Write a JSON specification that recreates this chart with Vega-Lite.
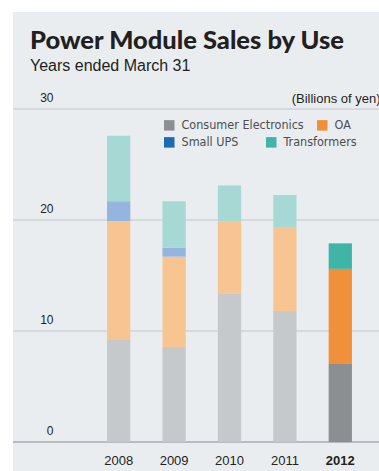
{
  "$schema": "https://vega.github.io/schema/vega-lite/v6.json",
  "width": 366,
  "height": 459,
  "autosize": {"type": "none"},
  "padding": {"left": 13, "top": 12, "right": 0, "bottom": 0},
  "background": "#ffffff",
  "title": {
    "text": "Power Module Sales by Use",
    "subtitle": "Years ended March 31",
    "anchor": "start",
    "frame": "group",
    "orient": "top",
    "dx": 17,
    "offset": -62,
    "font": "Lato",
    "fontSize": 25.5,
    "fontWeight": 900,
    "color": "#231f20",
    "subtitleFont": "Liberation Sans",
    "subtitleFontSize": 16,
    "subtitleColor": "#231f20",
    "subtitlePadding": 4
  },
  "config": {
    "view": {"fill": "#e9edf0", "stroke": null},
    "font": "Liberation Sans"
  },
  "data": {
    "values": [
      {"year": "2008", "use": "Consumer Electronics", "sales": 9.2},
      {"year": "2008", "use": "OA", "sales": 10.7},
      {"year": "2008", "use": "Small UPS", "sales": 1.8},
      {"year": "2008", "use": "Transformers", "sales": 5.9},
      {"year": "2009", "use": "Consumer Electronics", "sales": 8.55},
      {"year": "2009", "use": "OA", "sales": 8.15},
      {"year": "2009", "use": "Small UPS", "sales": 0.8},
      {"year": "2009", "use": "Transformers", "sales": 4.2},
      {"year": "2010", "use": "Consumer Electronics", "sales": 13.4},
      {"year": "2010", "use": "OA", "sales": 6.45},
      {"year": "2010", "use": "Transformers", "sales": 3.25},
      {"year": "2011", "use": "Consumer Electronics", "sales": 11.8},
      {"year": "2011", "use": "OA", "sales": 7.5},
      {"year": "2011", "use": "Transformers", "sales": 2.95},
      {"year": "2012", "use": "Consumer Electronics", "sales": 7.1},
      {"year": "2012", "use": "OA", "sales": 8.5},
      {"year": "2012", "use": "Transformers", "sales": 2.3}
    ]
  },
  "layer": [
    {
      "data": {"values": [{"tick": 0}, {"tick": 10}, {"tick": 20}, {"tick": 30}]},
      "mark": {"type": "rule"},
      "encoding": {
        "y": {
          "field": "tick",
          "type": "quantitative",
          "title": "(Billions of yen)",
          "scale": {"domain": [-2.61, 38.74], "nice": false, "zero": false},
          "axis": {
            "title": "(Billions of yen)",
            "titleAngle": 0,
            "titleAlign": "right",
            "titleBaseline": "middle",
            "titleX": 327,
            "titleY": 86,
            "titleFont": "Liberation Sans",
            "titleFontSize": 13,
            "titleFontWeight": "normal",
            "titleColor": "#231f20",
            "values": [0, 10, 20, 30],
            "offset": -40,
            "domain": false,
            "ticks": false,
            "tickSize": 0,
            "grid": false,
            "labelPadding": 0,
            "labelAlign": "right",
            "labelBaseline": "middle",
            "labelOffset": -12,
            "labelFont": "Liberation Sans",
            "labelFontSize": 12,
            "labelColor": "#231f20"
          }
        },
        "color": {"condition": {"test": "datum.tick == 0", "value": "#b6bcc2"}, "value": "#c3c8cd"},
        "strokeWidth": {"condition": {"test": "datum.tick == 0", "value": 2}, "value": 1}
      }
    },
    {
      "transform": [{"filter": "datum.year != '2012'"}],
      "mark": {"type": "bar"},
      "encoding": {
        "x": {
          "field": "year",
          "type": "ordinal",
          "scale": {"range": [78, 355], "paddingInner": 0.58, "paddingOuter": 0.29},
          "axis": {
            "title": null,
            "orient": "bottom",
            "offset": -29,
            "domain": false,
            "ticks": false,
            "tickSize": 0,
            "grid": false,
            "labelAngle": 0,
            "labelPadding": 18,
            "labelBaseline": "middle",
            "labelFont": "Liberation Sans",
            "labelFontSize": 13,
            "labelColor": "#231f20",
            "labelFontWeight": {"expr": "datum.value == '2012' ? 'bold' : 'normal'"}
          }
        },
        "y": {
          "field": "sales",
          "type": "quantitative",
          "aggregate": "sum",
          "stack": "zero",
          "title": "(Billions of yen)"
        },
        "order": {"field": "use", "sort": "ascending"},
        "color": {
          "field": "use",
          "type": "nominal",
          "scale": {
            "domain": ["Consumer Electronics", "OA", "Small UPS", "Transformers"],
            "range": ["#c6c9cb", "#f8c592", "#93b5de", "#a6d9d3"]
          },
          "legend": null
        }
      }
    },
    {
      "transform": [{"filter": "datum.year == '2012'"}],
      "mark": {"type": "bar", "strokeWidth": 0},
      "encoding": {
        "x": {"field": "year", "type": "ordinal"},
        "y": {"field": "sales", "type": "quantitative", "aggregate": "sum", "stack": "zero", "title": "(Billions of yen)"},
        "order": {"field": "use", "sort": "ascending"},
        "color": {
          "field": "use",
          "type": "nominal",
          "scale": {
            "domain": ["Consumer Electronics", "OA", "Small UPS", "Transformers"],
            "range": ["#8c8f91", "#f0913a", "#1b6cb3", "#3fb4a8"]
          },
          "legend": {
            "title": null,
            "orient": "none",
            "legendX": 150,
            "legendY": 107,
            "direction": "horizontal",
            "values": ["Consumer Electronics", "OA"],
            "columnPadding": 12,
            "symbolType": "square",
            "symbolSize": 110,
            "symbolStrokeWidth": 0,
            "labelOffset": 6,
            "labelFont": "DejaVu Sans Condensed",
            "labelFontSize": 12.5,
            "labelColor": "#4d4d4f"
          }
        },
        "stroke": {
          "field": "use",
          "type": "nominal",
          "scale": {
            "domain": ["Small UPS", "Transformers", "Consumer Electronics", "OA"],
            "range": ["#1b6cb3", "#3fb4a8", "#8c8f91", "#f0913a"]
          },
          "legend": {
            "title": null,
            "orient": "none",
            "legendX": 150,
            "legendY": 124,
            "direction": "horizontal",
            "values": ["Small UPS", "Transformers"],
            "columnPadding": 12,
            "symbolType": "square",
            "symbolSize": 1,
            "symbolStrokeWidth": 9.5,
            "labelOffset": 6,
            "labelFont": "DejaVu Sans Condensed",
            "labelFontSize": 12.5,
            "labelColor": "#4d4d4f"
          }
        }
      }
    }
  ],
  "resolve": {"scale": {"color": "independent", "stroke": "independent"}}
}
